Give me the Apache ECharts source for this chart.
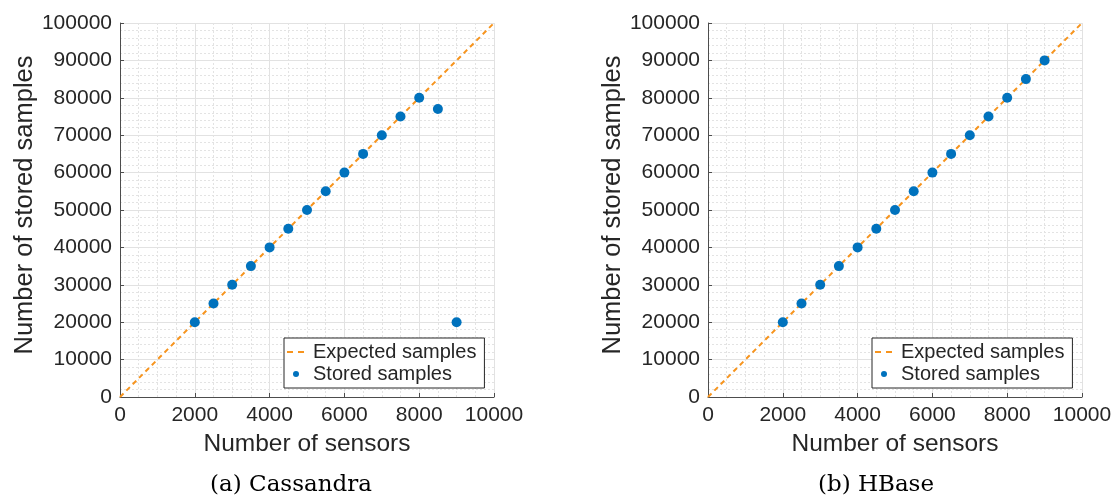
<!DOCTYPE html>
<html>
<head>
<meta charset="utf-8">
<script src="https://cdn.jsdelivr.net/npm/echarts@6/dist/echarts.min.js"></script>
<style>
html,body{margin:0;padding:0;background:#fff;}
#chart{width:1118px;height:501px;}
</style>
</head>
<body>
<div id="chart"></div>
<script>
// ---- data ----
const sensors = [2000, 2500, 3000, 3500, 4000, 4500, 5000, 5500, 6000, 6500, 7000, 7500, 8000, 8500, 9000];
const cassandraStored = [20000, 25000, 30000, 35000, 40000, 45000, 50000, 55000, 60000, 65000, 70000, 75000, 80000, 77000, 20000];
const hbaseStored = [20000, 25000, 30000, 35000, 40000, 45000, 50000, 55000, 60000, 65000, 70000, 75000, 80000, 85000, 90000];
const expectedX = [0, 10000];
const expectedY = [0, 100000];
const subTitles = ['(a) Cassandra', '(b) HBase'];
const xName = 'Number of sensors';
const yName = 'Number of stored samples';
const legendNames = ['Expected samples', 'Stored samples'];

const ORANGE = '#f7941d';
const BLUE = '#0072bd';
const TXT = '#262626';
const FONT = 'Liberation Sans, Arial, sans-serif';

function pairs(xs, ys) { return xs.map((x, i) => [x, ys[i]]); }

const gridLefts = [120, 708];
const titleCenters = [291, 876];

function xAxis(i) {
  return {
    type: 'value', gridIndex: i, min: 0, max: 10000, interval: 2000,
    name: xName, nameLocation: 'middle', nameGap: 35,
    nameTextStyle: { fontFamily: FONT, fontSize: 24.5, color: TXT },
    axisLine: { show: true, onZero: false, lineStyle: { color: '#4d4d4d', width: 1 } },
    axisTick: { show: true, inside: true, length: 4, lineStyle: { color: '#4d4d4d' } },
    axisLabel: { fontFamily: FONT, fontSize: 21, color: TXT, margin: 8, formatter: v => String(v) },
    splitLine: { show: true, lineStyle: { color: '#e2e2e2', width: 1 } },
    minorTick: { show: false, splitNumber: 4 },
    minorSplitLine: { show: true, lineStyle: { color: '#e3e3e3', width: 1, type: [2, 2] } }
  };
}
function yAxis(i) {
  return {
    type: 'value', gridIndex: i, min: 0, max: 100000, interval: 10000,
    name: yName, nameLocation: 'middle', nameGap: 80, nameRotate: 90,
    nameTextStyle: { fontFamily: FONT, fontSize: 25.5, color: TXT, padding: [0, 0, 0, 10] },
    axisLine: { show: true, onZero: false, lineStyle: { color: '#4d4d4d', width: 1 } },
    axisTick: { show: true, inside: true, length: 4, lineStyle: { color: '#4d4d4d' } },
    axisLabel: { fontFamily: FONT, fontSize: 21, color: TXT, margin: 8, formatter: v => String(v) },
    splitLine: { show: true, lineStyle: { color: '#e2e2e2', width: 1 } },
    minorTick: { show: false, splitNumber: 5 },
    minorSplitLine: { show: true, lineStyle: { color: '#e3e3e3', width: 1, type: [2, 2] } }
  };
}

function expectedSeries(i) {
  return {
    name: legendNames[0] + (i ? ' ' : ''), type: 'line', xAxisIndex: i, yAxisIndex: i,
    data: pairs(expectedX, expectedY), symbol: 'none', silent: true,
    lineStyle: { color: ORANGE, width: 2, type: [5, 4] }, itemStyle: { color: ORANGE }, z: 2
  };
}
function storedSeries(i, ys) {
  return {
    name: legendNames[1] + (i ? ' ' : ''), type: 'scatter', xAxisIndex: i, yAxisIndex: i,
    data: pairs(sensors, ys), symbol: 'circle', symbolSize: 10,
    itemStyle: { color: BLUE, opacity: 1 }, z: 3
  };
}

const DASH_ICON = 'path://M0,0 M18,6 M0,2h6v2h-6z M11,2h6v2h-6z';

function legend(i) {
  const sfx = i ? ' ' : '';
  return {
    orient: 'vertical', left: gridLefts[i] + 164, top: 338,
    data: [
      { name: legendNames[0] + sfx, icon: DASH_ICON, itemStyle: { color: ORANGE } },
      { name: legendNames[1] + sfx, icon: 'circle' }
    ],
    backgroundColor: '#fff', borderColor: '#262626', borderWidth: 1,
    padding: [4, 8, 4, 3], itemGap: 2, itemWidth: 18, itemHeight: 6,
    textStyle: { fontFamily: FONT, fontSize: 20, color: TXT, padding: [0, 0, 0, 3] },
    formatter: n => n.trim(),
    selectedMode: false
  };
}

const chart = echarts.init(document.getElementById('chart'), null, { renderer: 'canvas' });
chart.setOption({
  animation: false,
  backgroundColor: '#fff',
  title: subTitles.map((t, i) => ({
    text: t, left: titleCenters[i], top: 474, textAlign: 'center', padding: 0,
    textStyle: { fontFamily: 'DejaVu Serif, serif', fontSize: 23, fontWeight: 'normal', color: '#000' }
  })),
  grid: gridLefts.map(l => ({ left: l, top: 23, width: 374, height: 374, containLabel: false })),
  xAxis: [xAxis(0), xAxis(1)],
  yAxis: [yAxis(0), yAxis(1)],
  legend: [legend(0), legend(1)],
  series: [
    expectedSeries(0), storedSeries(0, cassandraStored),
    expectedSeries(1), storedSeries(1, hbaseStored)
  ]
});
</script>
</body>
</html>
